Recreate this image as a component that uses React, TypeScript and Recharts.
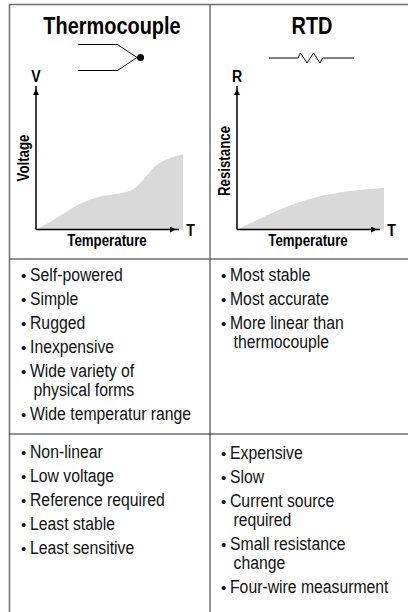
import { ComposedChart, Area, XAxis, YAxis, ReferenceLine } from "recharts";

// values in percent of each plot's width / height
const thermoTemp = [0, 14, 29, 43.5, 52.6, 66, 73, 81, 89, 100];
const thermoVolt = [0, 8.1, 17.4, 22.8, 24.4, 27.9, 34.8, 44.1, 48.8, 52.7];
const rtdTemp = [0, 16.8, 35, 55, 75.7, 100];
const rtdRes = [0, 8.1, 16.3, 22.8, 26.7, 29];

const thermoPros = ["Self-powered", "Simple", "Rugged", "Inexpensive", "Wide variety of\nphysical forms", "Wide temperatur range"];
const thermoCons = ["Non-linear", "Low voltage", "Reference required", "Least stable", "Least sensitive"];
const rtdPros = ["Most stable", "Most accurate", "More linear than\nthermocouple"];
const rtdCons = ["Expensive", "Slow", "Current source\nrequired", "Small resistance\nchange", "Four-wire measurment"];

const FONT = "'Liberation Sans', Arial, sans-serif";
const GREY = "#6e6e6e";
const NARROW = 0.83; // no narrow font installed, so squeeze the regular one

function toRows(xs: number[], ys: number[]) {
  return xs.map((x, i) => ({ x, y: ys[i] }));
}

function Plot(props: { left: number; xs: number[]; ys: number[]; xName: string; xNameX: number; yName: string; yLetter: string; yNameY: number }) {
  return (
    <div style={{ position: "absolute", left: props.left, top: 60 }}>
      <ComposedChart width={200} height={200} data={toRows(props.xs, props.ys)} margin={{ top: 26, right: 27, left: 0, bottom: 0 }}>
        <defs>
          <marker id={"arrow" + props.yLetter} markerWidth="7" markerHeight="6" refX="6" refY="2" orient="auto" markerUnits="strokeWidth">
            <path d="M0,0 L4,2 L0,4 Z" fill="#000" />
          </marker>
        </defs>
        <XAxis type="number" dataKey="x" domain={[0, 100]} height={30.5} tick={false} axisLine={false} tickLine={false} />
        <YAxis type="number" domain={[0, 100]} width={26} tick={false} axisLine={false} tickLine={false} />
        <Area type="monotone" dataKey="y" stroke="none" fill="#d9d9d9" fillOpacity={1} isAnimationActive={false} dot={false} activeDot={false} />
        <ReferenceLine segment={[{ x: 0, y: 0 }, { x: 97.3, y: 0 }]} stroke="#000" strokeWidth={1.5} markerEnd={`url(#arrow${props.yLetter})`} />
        <ReferenceLine segment={[{ x: 0, y: 0 }, { x: 0, y: 100 }]} stroke="#000" strokeWidth={1.5} markerEnd={`url(#arrow${props.yLetter})`} />
        <text transform={`translate(${props.xNameX},186) scale(${NARROW},1)`} fontFamily={FONT} fontSize={16} fontWeight={700} textAnchor="middle">{props.xName}</text>
        <text transform={`translate(19,${props.yNameY}) rotate(-90) scale(${NARROW},1)`} fontFamily={FONT} fontSize={16} fontWeight={700} textAnchor="middle">{props.yName}</text>
        <text transform={`translate(180.5,175.5) scale(${NARROW},1)`} fontFamily={FONT} fontSize={17} fontWeight={700} textAnchor="middle">T</text>
        <text transform={`translate(26,22) scale(${NARROW},1)`} fontFamily={FONT} fontSize={17} fontWeight={700} textAnchor="middle">{props.yLetter}</text>
      </ComposedChart>
    </div>
  );
}

function BulletList(props: { items: string[]; left: number; top: number }) {
  const lineStyle = { transform: "scaleX(0.875)", transformOrigin: "left" };
  return (
    <div style={{ position: "absolute", left: props.left, top: props.top, width: 180, fontFamily: FONT, fontSize: 18, lineHeight: "19px", color: "#111" }}>
      {props.items.map((item) => {
        const lines = item.split("\n");
        return (
          <div key={item} style={{ position: "relative", paddingLeft: 9, marginBottom: 5, whiteSpace: "nowrap" }}>
            <span style={{ position: "absolute", left: 0, fontSize: 15 }}>•</span>
            <div style={lineStyle}>{lines[0]}</div>
            {lines[1] && <div style={{ ...lineStyle, paddingLeft: 4 }}>{lines[1]}</div>}
          </div>
        );
      })}
    </div>
  );
}

function Title(props: { text: string; left: number }) {
  return (
    <div style={{ position: "absolute", left: props.left, width: 200, top: 11, textAlign: "center", fontFamily: FONT, fontSize: 24, fontWeight: 700, lineHeight: "30px", transform: `scaleX(${NARROW})` }}>
      {props.text}
    </div>
  );
}

export default function App() {
  return (
    <div style={{ position: "absolute", left: 0, top: 0, width: 408, height: 612, background: "#fff", overflow: "hidden" }}>
      <svg width={408} height={612} style={{ position: "absolute", left: 0, top: 0 }}>
        <g stroke={GREY} strokeWidth={1.5} fill="none">
          <path d="M9.5,612 V4.5 H408" />
          <path d="M210,4.5 V612" />
          <path d="M9.5,259 H408" />
        </g>
        <path d="M9.5,434 H408" stroke="#222" strokeWidth={1} />
        <g stroke="#000" strokeWidth={1} fill="none">
          <path d="M78,44.5 H117.5 L137,57.5 L117.5,70.5 H78" />
          <path d="M269,58 H298 L300.5,53 L307,63 L313.5,53 L320,63 L322.5,58 H354" />
        </g>
        <circle cx={140.5} cy={57.5} r={3.5} fill="#000" />
      </svg>
      <Title text="Thermocouple" left={12} />
      <Title text="RTD" left={212} />
      <Plot left={10} xs={thermoTemp} ys={thermoVolt} xName="Temperature" xNameX={97} yName="Voltage" yLetter="V" yNameY={98} />
      <Plot left={211} xs={rtdTemp} ys={rtdRes} xName="Temperature" xNameX={97} yName="Resistance" yLetter="R" yNameY={101} />
      <BulletList items={thermoPros} left={21} top={266} />
      <BulletList items={rtdPros} left={221} top={266} />
      <BulletList items={thermoCons} left={21} top={443} />
      <BulletList items={rtdCons} left={221} top={444} />
    </div>
  );
}
